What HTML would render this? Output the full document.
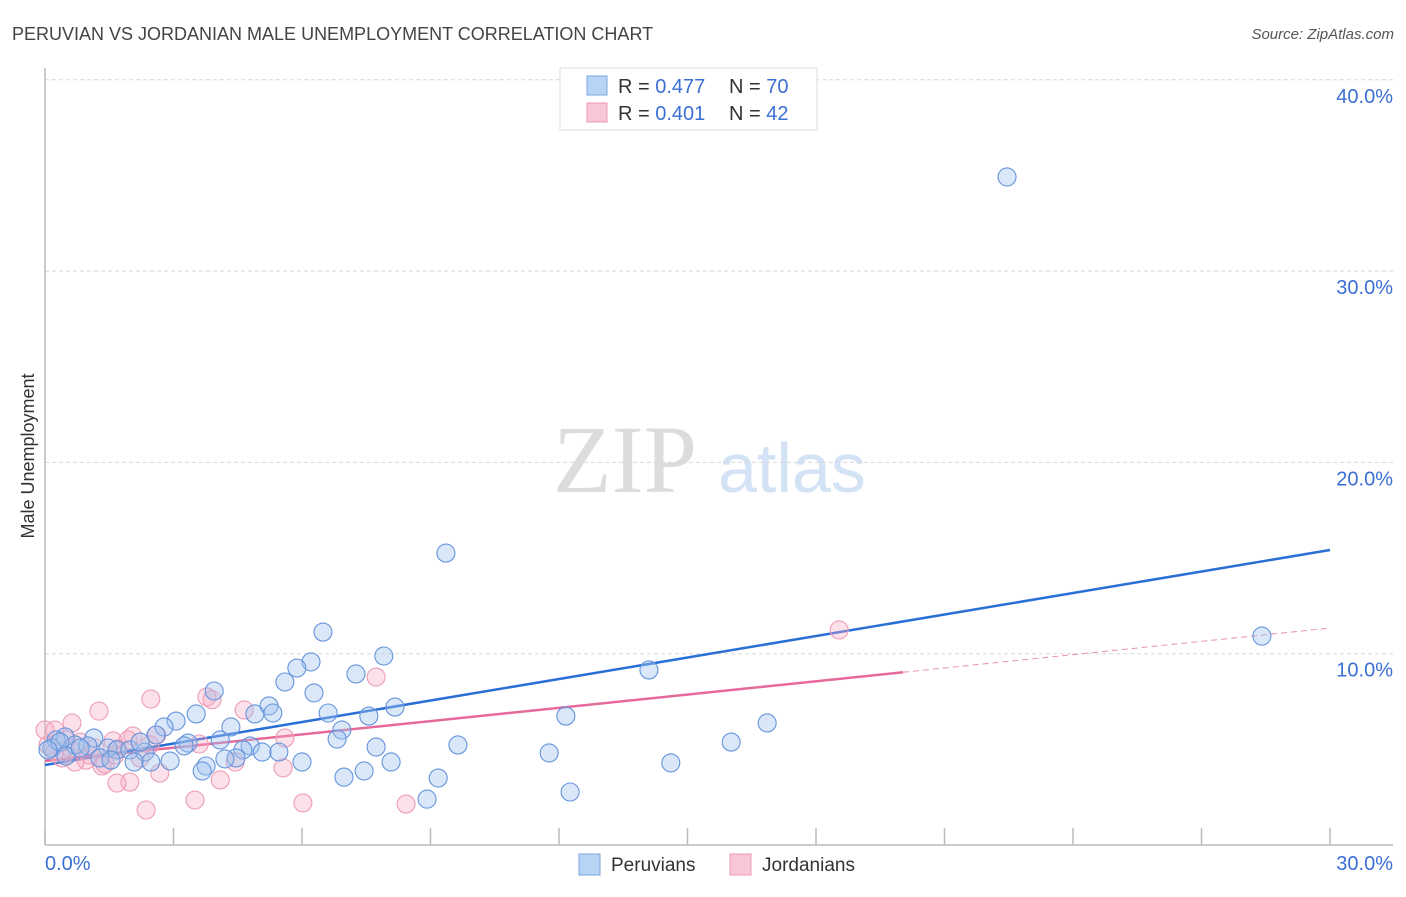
<!DOCTYPE html>
<html><head><meta charset="utf-8"><style>
body{margin:0;background:#fff;font-family:"Liberation Sans",sans-serif;}
svg text{font-family:"Liberation Sans",sans-serif;}
</style></head><body>
<svg id="chart" width="1406" height="892" viewBox="0 0 1406 892">
<text x="12" y="40" font-size="18" fill="#444">PERUVIAN VS JORDANIAN MALE UNEMPLOYMENT CORRELATION CHART</text>
<text x="1394" y="39" font-size="15" fill="#555" font-style="italic" text-anchor="end">Source: ZipAtlas.com</text>
<text x="34" y="456" font-size="18" fill="#333" text-anchor="middle" transform="rotate(-90 34 456)">Male Unemployment</text>
<g>
<text x="553" y="492" font-size="96" fill="#dcdcdc" style="font-family:'Liberation Serif',serif">ZIP</text>
<text x="718" y="492" font-size="70" fill="#d3e2f5">atlas</text>
</g>
<g id="grid"></g>
<g id="axes"></g>
<g id="lines"></g>
<g id="pts"></g>
<g>
<rect x="560" y="68" width="257" height="62" fill="#fff" stroke="#ddd"/>
<rect x="587" y="76" width="20" height="19" fill="#b8d4f5" stroke="#7aa6e0"/>
<text x="618" y="93" font-size="20" fill="#333">R = <tspan fill="#3b6fd4">0.477</tspan></text>
<text x="729" y="93" font-size="20" fill="#333">N = <tspan fill="#3b6fd4">70</tspan></text>
<rect x="587" y="103" width="20" height="19" fill="#f9c6d6" stroke="#ec9ab4"/>
<text x="618" y="120" font-size="20" fill="#333">R = <tspan fill="#3b6fd4">0.401</tspan></text>
<text x="729" y="120" font-size="20" fill="#333">N = <tspan fill="#3b6fd4">42</tspan></text>
</g>
<g>
<rect x="579" y="854" width="21" height="21" fill="#b8d4f5" stroke="#7aa6e0"/>
<text x="611" y="871" font-size="19" fill="#333">Peruvians</text>
<rect x="730" y="854" width="21" height="21" fill="#f9c6d6" stroke="#ec9ab4"/>
<text x="762" y="871" font-size="19" fill="#333">Jordanians</text>
</g>
</svg>
<script>
const yTicks=[10,20,30,40];
const yTickLabels=["10.0%","20.0%","30.0%","40.0%"];
const xTicks=[0,3,6,9,12,15,18,21,24,27,30];
const xTickLabels=["0.0%","30.0%"];
const peruX=[22.46,9.36,28.41,6.49,14.10,7.91,6.21,5.88,7.26,5.60,3.95,6.28,5.23,8.17,3.53,5.32,4.90,6.61,7.56,12.16,16.86,3.06,2.78,4.34,6.93,6.82,4.09,9.64,7.73,16.02,3.34,3.25,4.79,5.07,5.46,4.62,11.77,1.47,1.68,1.98,2.33,6.00,8.08,4.46,2.92,4.20,2.47,2.08,3.76,3.67,14.61,9.18,6.98,7.45,12.26,8.92,1.14,0.47,0.26,0.70,1.00,0.16,0.35,0.07,0.49,0.82,1.28,1.54,2.59,2.22];
const peruY=[34.92,15.26,10.92,11.13,9.15,9.88,9.57,9.25,8.94,8.52,8.05,7.95,7.27,7.21,6.85,6.90,6.85,6.90,6.74,6.74,6.38,6.48,6.17,6.17,6.01,5.54,5.49,5.23,5.12,5.38,5.33,5.18,5.18,4.86,4.86,4.97,4.81,5.07,4.97,4.97,4.86,4.34,4.34,4.55,4.39,4.50,4.34,4.34,4.13,3.87,4.29,3.50,3.55,3.87,2.77,2.40,5.59,5.65,5.49,5.23,5.18,5.07,5.38,4.97,4.65,5.07,4.55,4.44,5.75,5.38];
const jordX=[18.54,7.73,2.47,3.78,3.90,1.26,4.65,0.63,2.61,2.05,1.94,5.60,3.60,1.59,1.03,0.96,1.33,1.70,0.00,0.07,0.23,0.40,0.58,0.82,1.17,1.98,1.68,2.68,4.09,3.50,4.44,5.56,2.36,6.02,8.43,1.63,2.22,0.49,0.23,2.45,1.40,0.70];
const jordY=[11.24,8.78,7.63,7.74,7.60,7.00,7.06,6.38,5.75,5.70,5.49,5.59,5.28,5.44,4.70,4.44,4.13,5.02,6.01,5.23,4.86,4.55,5.07,5.38,5.07,3.29,3.24,3.76,3.40,2.35,4.34,4.03,1.83,2.20,2.14,4.70,4.55,5.49,6.01,5.23,4.23,4.34];
const peruTrend=[4.18,15.42];
const jordTrend=[4.39,11.34];
const jordSolidEnd=20.03;
const NS="http://www.w3.org/2000/svg";
const X=v=>45+v/30*1285, Y=v=>845-v*19.13;
function mk(tag,attrs,parent){const e=document.createElementNS(NS,tag);for(const k in attrs)e.setAttribute(k,attrs[k]);document.getElementById(parent).appendChild(e);return e;}
yTicks.forEach((t,i)=>{
 const g=mk('line',{x1:45,x2:1393,y1:Y(t),y2:Y(t),stroke:'#d8d8d8','stroke-dasharray':'4,3'},'grid');
 
 
 const l=mk('text',{x:1393,y:Y(t)+23,'font-size':20,fill:'#3b6fd4','text-anchor':'end'},'grid');l.textContent=yTickLabels[i];
 
 
});
let ax=mk('line',{x1:45,x2:45,y1:68,y2:845,stroke:'#bbb','stroke-width':1.5},'axes');


ax=mk('line',{x1:45,x2:1393,y1:845,y2:845,stroke:'#bbb','stroke-width':1.5},'axes');


xTicks.forEach(t=>{const e=mk('line',{x1:X(t),x2:X(t),y1:828,y2:845,stroke:'#bbb','stroke-width':1.5},'axes');
 
 });
let tl=mk('text',{x:45,y:870,'font-size':20,fill:'#3b6fd4'},'axes');tl.textContent=xTickLabels[0];


tl=mk('text',{x:1393,y:870,'font-size':20,fill:'#3b6fd4','text-anchor':'end'},'axes');tl.textContent=xTickLabels[1];


function draw(xs,ys,fill,stroke,name){xs.forEach((x,i)=>{const c=mk('circle',{cx:X(x),cy:Y(ys[i]),r:9,fill:fill,stroke:stroke,'stroke-width':1.1},'pts');
 
 });}
draw(jordX,jordY,'rgba(245,170,196,0.35)','#ee9cb6','jordanian-point');
draw(peruX,peruY,'rgba(160,196,238,0.4)','#6594dc','peruvian-point');
const jAt=x=>jordTrend[0]+(jordTrend[1]-jordTrend[0])*x/30;
let ln=mk('line',{x1:X(jordSolidEnd),y1:Y(jAt(jordSolidEnd)),x2:X(30),y2:Y(jordTrend[1]),stroke:'#e892ae','stroke-width':1,'stroke-dasharray':'6,4'},'lines');


ln=mk('line',{x1:X(0),y1:Y(jordTrend[0]),x2:X(jordSolidEnd),y2:Y(jAt(jordSolidEnd)),stroke:'#e5699a','stroke-width':2.5},'lines');


ln=mk('line',{x1:X(0),y1:Y(peruTrend[0]),x2:X(30),y2:Y(peruTrend[1]),stroke:'#2a6fd6','stroke-width':2.5},'lines');


</script>
</body></html>
